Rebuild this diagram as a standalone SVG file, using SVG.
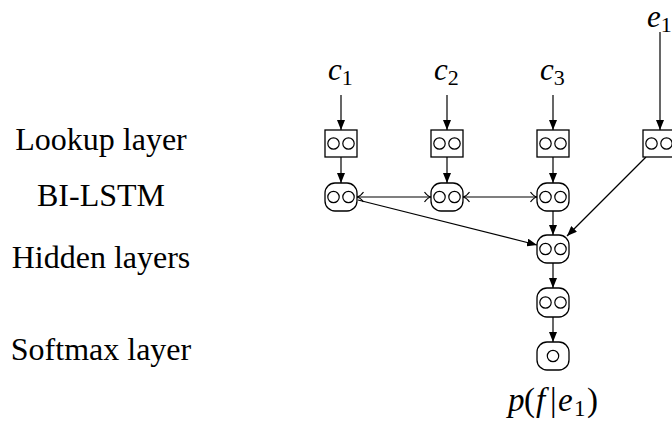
<svg xmlns="http://www.w3.org/2000/svg" width="672" height="421" viewBox="0 0 672 421">
<defs>
<style>
.lbl{font-family:"Liberation Serif",serif;font-size:32px;fill:#000;text-anchor:middle}
.m{font-family:"Liberation Serif",serif;font-size:31px;font-style:italic;fill:#000}
.up{font-style:normal}
.sub{font-size:22px;font-style:normal}
.box{fill:#fff;stroke:#000;stroke-width:1.3}
.cir{fill:none;stroke:#000;stroke-width:1.2}
.e{fill:none;stroke:#000;stroke-width:1.2}
</style>
<marker id="tri" markerUnits="userSpaceOnUse" viewBox="0 0 10 8" refX="10" refY="4" markerWidth="10" markerHeight="8" orient="auto">
<path d="M0,0 L10,4 L0,8 Z" fill="#000"/>
</marker>
<marker id="to" markerUnits="userSpaceOnUse" viewBox="0 0 10 12" refX="9.5" refY="6" markerWidth="10" markerHeight="12" orient="auto-start-reverse">
<path d="M3,1 Q6,5.4 9.5,6 Q6,6.6 3,11" fill="none" stroke="#000" stroke-width="1.2"/>
</marker>
</defs>
<rect width="672" height="421" fill="#fff"/>

<g id="row-labels">
<text class="lbl" x="101" y="150">Lookup layer</text>
<text class="lbl" x="101" y="206">BI-LSTM</text>
<text class="lbl" x="101" y="268">Hidden layers</text>
<text class="lbl" x="101" y="360">Softmax layer</text>
</g>

<g id="inputs">
<text class="m" x="328" y="80">c<tspan class="sub" dy="5">1</tspan></text>
<text class="m" x="434" y="80">c<tspan class="sub" dy="5">2</tspan></text>
<text class="m" x="540" y="80">c<tspan class="sub" dy="5">3</tspan></text>
<text class="m" x="647" y="27">e<tspan class="sub" dy="5">1</tspan></text>
</g>

<g id="connectors">
<line class="e" x1="341" y1="95" x2="341" y2="130" marker-end="url(#tri)"/>
<line class="e" x1="447" y1="95" x2="447" y2="130" marker-end="url(#tri)"/>
<line class="e" x1="553" y1="95" x2="553" y2="130" marker-end="url(#tri)"/>
<line class="e" x1="660" y1="32" x2="660" y2="130" marker-end="url(#tri)"/>
<line class="e" x1="341" y1="157" x2="341" y2="183" marker-end="url(#tri)"/>
<line class="e" x1="447" y1="157" x2="447" y2="183" marker-end="url(#tri)"/>
<line class="e" x1="553" y1="157" x2="553" y2="183" marker-end="url(#tri)"/>
<line class="e" x1="357" y1="197" x2="431" y2="197" marker-start="url(#to)" marker-end="url(#to)"/>
<line class="e" x1="463" y1="197" x2="537" y2="197" marker-start="url(#to)" marker-end="url(#to)"/>
<line class="e" x1="358" y1="200" x2="537" y2="245" marker-end="url(#tri)"/>
<line class="e" x1="646" y1="157" x2="567" y2="236" marker-end="url(#tri)"/>
<line class="e" x1="553" y1="211" x2="553" y2="235" marker-end="url(#tri)"/>
<line class="e" x1="553" y1="263" x2="553" y2="288" marker-end="url(#tri)"/>
<line class="e" x1="553" y1="317" x2="553" y2="342" marker-end="url(#tri)"/>
</g>

<g id="lookup1"><rect class="box" x="325" y="130" width="32" height="27"/><circle class="cir" cx="333.5" cy="143.5" r="5.7"/><circle class="cir" cx="348.5" cy="143.5" r="5.7"/></g>
<g id="lookup2"><rect class="box" x="431" y="130" width="32" height="27"/><circle class="cir" cx="439.5" cy="143.5" r="5.7"/><circle class="cir" cx="454.5" cy="143.5" r="5.7"/></g>
<g id="lookup3"><rect class="box" x="537" y="130" width="32" height="27"/><circle class="cir" cx="545.5" cy="143.5" r="5.7"/><circle class="cir" cx="560.5" cy="143.5" r="5.7"/></g>
<g id="lookup4"><rect class="box" x="643" y="130" width="32" height="27"/><circle class="cir" cx="651.5" cy="143.5" r="5.7"/><circle class="cir" cx="666.5" cy="143.5" r="5.7"/></g>

<g id="lstm1"><rect class="box" x="325" y="183" width="32" height="28" rx="10"/><circle class="cir" cx="333.5" cy="197" r="5.7"/><circle class="cir" cx="348.5" cy="197" r="5.7"/></g>
<g id="lstm2"><rect class="box" x="431" y="183" width="32" height="28" rx="10"/><circle class="cir" cx="439.5" cy="197" r="5.7"/><circle class="cir" cx="454.5" cy="197" r="5.7"/></g>
<g id="lstm3"><rect class="box" x="537" y="183" width="32" height="28" rx="10"/><circle class="cir" cx="545.5" cy="197" r="5.7"/><circle class="cir" cx="560.5" cy="197" r="5.7"/></g>

<g id="hidden1"><rect class="box" x="537" y="235" width="32" height="28" rx="10"/><circle class="cir" cx="545.5" cy="249" r="5.7"/><circle class="cir" cx="560.5" cy="249" r="5.7"/></g>
<g id="hidden2"><rect class="box" x="537" y="288" width="32" height="29" rx="10"/><circle class="cir" cx="545.5" cy="302.5" r="5.7"/><circle class="cir" cx="560.5" cy="302.5" r="5.7"/></g>
<g id="softmax"><rect class="box" x="537" y="342" width="32" height="28" rx="10"/><circle class="cir" cx="553" cy="356" r="5.7"/></g>

<g id="output">
<text class="m" y="411" style="font-size:33px"><tspan x="508">p</tspan><tspan class="up" x="524">(</tspan><tspan x="536">f</tspan><tspan class="up" x="550">|</tspan><tspan x="558">e</tspan><tspan class="sub" x="574" dy="5" style="font-size:23px">1</tspan><tspan class="up" x="587" dy="-5">)</tspan></text>
</g>
</svg>
